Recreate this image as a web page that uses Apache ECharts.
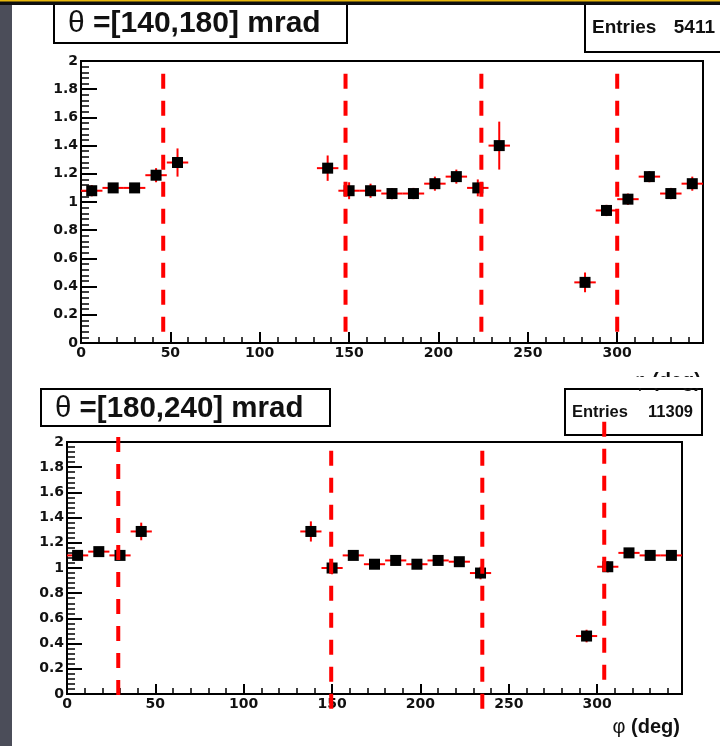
<!DOCTYPE html>
<html>
<head>
<meta charset="utf-8">
<script src="https://cdn.jsdelivr.net/npm/echarts@6/dist/echarts.min.js"></script>
<style>
html,body{margin:0;padding:0;background:#fff;}
#chart{width:720px;height:746px;}
</style>
</head>
<body>
<div id="chart"></div>
<script>
// ---------- data ----------
const panelTitles = ['[140,180] mrad', '[180,240] mrad'];
const entryCounts = ['5411', '11309'];
const axisTitle = '(deg)';

const phiMin = 0, phiMax = 348, phiStep = 50;
const ratioMin = 0, ratioMax = 2, ratioStep = 0.2;
const binHalfWidth = 6;

// top panel: theta in [140,180] mrad
const topPhi    = [6, 18, 30, 42, 54, 138, 150, 162, 174, 186, 198, 210, 222, 234, 282, 294, 306, 318, 330, 342];
const topRatio  = [1.08, 1.10, 1.10, 1.19, 1.28, 1.24, 1.08, 1.08, 1.06, 1.06, 1.13, 1.18, 1.10, 1.40, 0.43, 0.94, 1.02, 1.18, 1.06, 1.13];
const topError  = [0.04, 0.03, 0.03, 0.05, 0.10, 0.09, 0.06, 0.05, 0.04, 0.04, 0.05, 0.05, 0.06, 0.17, 0.07, 0.04, 0.04, 0.04, 0.04, 0.05];
const topCutPhi  = [46, 148, 224, 300];
const topCutFrom = [1.91, 1.91, 1.91, 1.91];
const topCutTo   = [0, 0, 0, 0];

// bottom panel: theta in [180,240] mrad
const botPhi    = [6, 18, 30, 42, 138, 150, 162, 174, 186, 198, 210, 222, 234, 294, 306, 318, 330, 342];
const botRatio  = [1.10, 1.13, 1.10, 1.29, 1.29, 1.00, 1.10, 1.03, 1.06, 1.03, 1.06, 1.05, 0.96, 0.46, 1.01, 1.12, 1.10, 1.10];
const botError  = [0.03, 0.03, 0.03, 0.07, 0.08, 0.05, 0.03, 0.03, 0.03, 0.03, 0.03, 0.03, 0.05, 0.05, 0.045, 0.03, 0.03, 0.03];
const botCutPhi  = [29, 149.5, 235, 304];
const botCutFrom = [2.04, 1.93, 1.93, 2.16];
const botCutTo   = [-0.07, -0.19, -0.19, 0.05];

// ---------- chart ----------
const chart = echarts.init(document.getElementById('chart'), null, {renderer: 'canvas'});

const labelFont = {color: '#111', fontFamily: '"DejaVu Sans", sans-serif', fontWeight: 'bold', fontSize: 14};

function xAxisOf(gi, tickLen) {
  return {
    type: 'value', gridIndex: gi, min: phiMin, max: phiMax, interval: phiStep,
    axisLine: {show: true, onZero: false, lineStyle: {color: '#000', width: 2}},
    axisTick: {show: true, inside: true, length: tickLen, lineStyle: {color: '#000', width: 2}},
    minorTick: {show: true, splitNumber: 5, length: 6, lineStyle: {color: '#000', width: 1.5}},
    splitLine: {show: false}, minorSplitLine: {show: false},
    axisLabel: Object.assign({show: true, margin: 3,
      formatter: v => (Math.abs(v % phiStep) < 1e-9 ? String(v) : '')}, labelFont)
  };
}
function yAxisOf(gi, tickLen) {
  return {
    type: 'value', gridIndex: gi, min: ratioMin, max: ratioMax, interval: ratioStep,
    axisLine: {show: true, onZero: false, lineStyle: {color: '#000', width: 2}},
    axisTick: {show: true, inside: true, length: tickLen, lineStyle: {color: '#000', width: 2}},
    minorTick: {show: true, splitNumber: 5, length: 8, lineStyle: {color: '#000', width: 1.5}},
    splitLine: {show: false}, minorSplitLine: {show: false},
    axisLabel: Object.assign({show: true, margin: 3,
      formatter: v => String(+(+v).toFixed(2))}, labelFont)
  };
}

function pointItem(params, api) {
  const x = api.value(0), y = api.value(1), e = api.value(2);
  const c = api.coord([x, y]);
  const l = api.coord([x - binHalfWidth, y]);
  const r = api.coord([x + binHalfWidth, y]);
  const t = api.coord([x, y + e]);
  const b = api.coord([x, y - e]);
  return {
    type: 'group',
    children: [
      {type: 'line', shape: {x1: l[0], y1: c[1], x2: r[0], y2: c[1]}, style: {stroke: '#ff0000', lineWidth: 2}},
      {type: 'line', shape: {x1: c[0], y1: t[1], x2: c[0], y2: b[1]}, style: {stroke: '#ff0000', lineWidth: 2}},
      {type: 'rect', shape: {x: c[0] - 5.5, y: c[1] - 5.5, width: 11, height: 11}, style: {fill: '#000'}}
    ]
  };
}
function cutItem(params, api) {
  const p1 = api.coord([api.value(0), api.value(1)]);
  const p2 = api.coord([api.value(0), api.value(2)]);
  return {
    type: 'line',
    shape: {x1: p1[0], y1: p1[1], x2: p2[0], y2: p2[1]},
    style: {stroke: '#ff0000', lineWidth: 4, lineDash: [15, 12], lineCap: 'butt'}
  };
}

const zip3 = (a, b, c) => a.map((v, i) => [v, b[i], c[i]]);

function titleText(x, y, size, body) {
  return {
    type: 'text', x: x, y: y, z: 20,
    style: {
      text: '{g|\u03b8} =' + body,
      font: 'bold ' + size + 'px "Liberation Sans", Arial, sans-serif',
      fill: '#111', align: 'left', verticalAlign: 'middle', textAlign: 'left', textVerticalAlign: 'middle',
      rich: {g: {font: 'normal ' + size + 'px "Liberation Sans", Arial, sans-serif', fill: '#111'}}
    }
  };
}
function plainText(x, y, size, txt, align) {
  return {
    type: 'text', x: x, y: y, z: 20,
    style: {
      text: txt, font: 'bold ' + size + 'px "Liberation Sans", Arial, sans-serif',
      fill: '#111', align: align, verticalAlign: 'middle', textAlign: align, textVerticalAlign: 'middle'
    }
  };
}
function axisTitleText(x, y) {
  return {
    type: 'text', x: x, y: y, z: 20,
    style: {
      text: '{g|\u03c6} ' + axisTitle,
      font: 'bold 20px "Liberation Sans", Arial, sans-serif',
      fill: '#111', align: 'right', verticalAlign: 'middle', textAlign: 'right', textVerticalAlign: 'middle',
      rich: {g: {font: 'normal 20px "Liberation Sans", Arial, sans-serif', fill: '#111'}}
    }
  };
}
function box(x, y, w, h) {
  return {type: 'rect', z: 15, shape: {x: x, y: y, width: w, height: h},
    style: {fill: '#fff', stroke: '#000', lineWidth: 2}};
}

const option = {
  backgroundColor: '#ffffff',
  animation: false,
  grid: [
    {left: 81, top: 61, width: 622, height: 282, show: true, borderColor: '#000', borderWidth: 2,
     backgroundColor: 'transparent', containLabel: false, outerBoundsMode: 'none'},
    {left: 67, top: 442, width: 615, height: 252, show: true, borderColor: '#000', borderWidth: 2,
     backgroundColor: 'transparent', containLabel: false, outerBoundsMode: 'none'}
  ],
  xAxis: [xAxisOf(0, 11), xAxisOf(1, 10)],
  yAxis: [yAxisOf(0, 16), yAxisOf(1, 15)],
  series: [
    {type: 'custom', xAxisIndex: 0, yAxisIndex: 0, clip: false, z: 5,
     renderItem: pointItem, data: zip3(topPhi, topRatio, topError)},
    {type: 'custom', xAxisIndex: 1, yAxisIndex: 1, clip: false, z: 5,
     renderItem: pointItem, data: zip3(botPhi, botRatio, botError)},
    {type: 'custom', xAxisIndex: 0, yAxisIndex: 0, clip: false, z: 30,
     renderItem: cutItem, data: zip3(topCutPhi, topCutFrom, topCutTo)},
    {type: 'custom', xAxisIndex: 1, yAxisIndex: 1, clip: false, z: 30,
     renderItem: cutItem, data: zip3(botCutPhi, botCutFrom, botCutTo)}
  ],
  graphic: {
    elements: [
      // slide decoration
      {type: 'rect', z: 1, shape: {x: 0, y: 0, width: 12, height: 746}, style: {fill: '#4b4d59'}},
      // top panel
      box(54, 3, 293, 40),
      titleText(68, 24, 30, panelTitles[0]),
      box(585, 1, 140, 51),
      plainText(592, 28, 19, 'Entries', 'left'),
      plainText(715, 28, 19, entryCounts[0], 'right'),
      axisTitleText(701, 381),
      // crop of the top picture (hides lower part of its axis title)
      {type: 'rect', z: 25, shape: {x: 12, y: 377, width: 708, height: 11}, style: {fill: '#fff'}},
      // bottom panel
      box(41, 389, 289, 37),
      titleText(55, 409, 29.5, panelTitles[1]),
      box(565, 389, 137, 46),
      plainText(572, 412, 16.5, 'Entries', 'left'),
      plainText(693, 412, 16.5, entryCounts[1], 'right'),
      axisTitleText(680, 727),
      // top band
      {type: 'rect', z: 40, shape: {x: 0, y: 0, width: 720, height: 5}, style: {fill: '#0e0e0e'}},
      {type: 'rect', z: 41, shape: {x: 0, y: 0, width: 720, height: 1.5}, style: {fill: '#e8b80c'}}
    ]
  }
};
chart.setOption(option);
</script>
</body>
</html>
